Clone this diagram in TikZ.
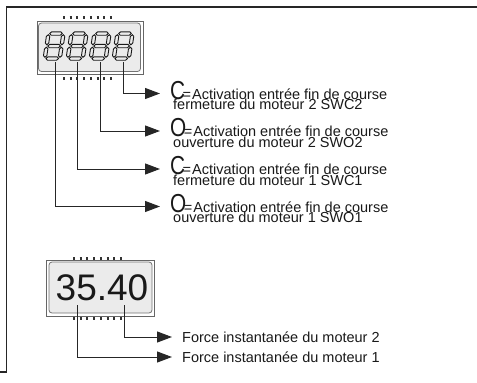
\documentclass[tikz,border=0pt]{standalone}
\usepackage{fontspec}
\setmainfont{Liberation Sans}
\usepackage{graphicx}
\usetikzlibrary{arrows.meta}
\tikzset{
  txt/.style={inner sep=0pt,anchor=base west,font=\fontsize{14.5}{14.5}\selectfont,text=black!90},
  lead/.style={line width=1pt,black!85},
  frame/.style={line width=1.6pt,black!85},
  dots/.style={line width=3pt,black!80,dash pattern=on 2pt off 4.7pt},
  dispframe/.style={draw=black!60,line width=0.6pt},
  dispbox/.style={draw=black!55,fill=black!8,line width=0.8pt,rounded corners=3pt},
  segline/.style={draw=black!90,fill=black!8,line width=0.9pt},
  segdigit/.pic={
    \begin{scope}[xslant=0.15]
      \foreach \yy in {0,12.5,25}
        \draw[segline] (1.2,\yy) -- (2.9,\yy-1.7) -- (12.1,\yy-1.7) -- (13.8,\yy)
          -- (12.1,\yy+1.7) -- (2.9,\yy+1.7) -- cycle;
      \foreach \xx in {0,15} \foreach \yy in {0,12.5}
        \draw[segline] (\xx,\yy+1.2) -- (\xx+1.7,\yy+2.9) -- (\xx+1.7,\yy+9.6)
          -- (\xx,\yy+11.3) -- (\xx-1.7,\yy+9.6) -- (\xx-1.7,\yy+2.9) -- cycle;
    \end{scope}
  }
}
\newcommand{\bigletter}[1]{\scalebox{0.8}[1]{\fontsize{26}{26}\selectfont #1}\kern-2.5pt=\kern1pt}
\begin{document}
\begin{tikzpicture}[x=1pt,y=-1pt,>={Stealth[length=15pt,width=11pt,inset=0pt]}]
 \useasboundingbox (0,0) rectangle (477,383);
 \draw[frame] (477,7) -- (6.5,7) -- (6.5,372) -- (0,372);
 % four digit display
 \draw[dispframe] (37,21) rectangle (143,74);
 \draw[dispbox] (38.5,23) rectangle (140.5,71.5);
 \draw[dots] (63,17) -- (114,17);
 \draw[dots] (63,78) -- (114,78);
 \pic (dg1) at (48.5,33.5) {segdigit};
 \pic (dg2) at (71.5,33.5) {segdigit};
 \pic (dg3) at (94.5,33.5) {segdigit};
 \pic (dg4) at (117.5,33.5) {segdigit};
 \coordinate (d1) at (55,62);
 \coordinate (d2) at (77,62);
 \coordinate (d3) at (100,62);
 \coordinate (d4) at (123.5,62);
 \coordinate (a1) at (160,206.5);
 \coordinate (a2) at (160,169);
 \coordinate (a3) at (160,131);
 \coordinate (a4) at (160,93.5);
 \draw[lead,->] (d4) |- (a4);
 \draw[lead,->] (d3) |- (a3);
 \draw[lead,->] (d2) |- (a2);
 \draw[lead,->] (d1) |- (a1);
 \node[txt] (c4) at (170,99) {\bigletter{C}Activation entrée fin de course};
 \node[txt] (m4) at (173,109.5) {fermeture du moteur 2 SWC2};
 \node[txt] (c3) at (170,136.5) {\bigletter{O}Activation entrée fin de course};
 \node[txt] (m3) at (173,147) {ouverture du moteur 2 SWO2};
 \node[txt] (c2) at (170,174.5) {\bigletter{C}Activation entrée fin de course};
 \node[txt] (m2) at (173,185) {fermeture du moteur 1 SWC1};
 \node[txt] (c1) at (170,212) {\bigletter{O}Activation entrée fin de course};
 \node[txt] (m1) at (173,222.5) {ouverture du moteur 1 SWO1};
 % force display
 \draw[dispframe] (46.5,260) rectangle (154,316);
 \draw[dispbox] (49,262) rectangle (152,313);
 \draw[dots] (73,258) -- (124,258);
 \draw[dots] (73,318) -- (124,318);
 \node[inner sep=0pt,anchor=base,font=\fontsize{37}{37}\selectfont,text=black!90] (val) at (102,300) {35.40};
 \coordinate (v1) at (77,305);
 \coordinate (v2) at (124,305);
 \coordinate (b2) at (172,337);
 \coordinate (b1) at (172,357);
 \draw[lead,->] (v2) |- (b2);
 \draw[lead,->] (v1) |- (b1);
 \node[txt] (f2) at (182,342) {Force instantanée du moteur 2};
 \node[txt] (f1) at (182,362) {Force instantanée du moteur 1};
\end{tikzpicture}
\end{document}
